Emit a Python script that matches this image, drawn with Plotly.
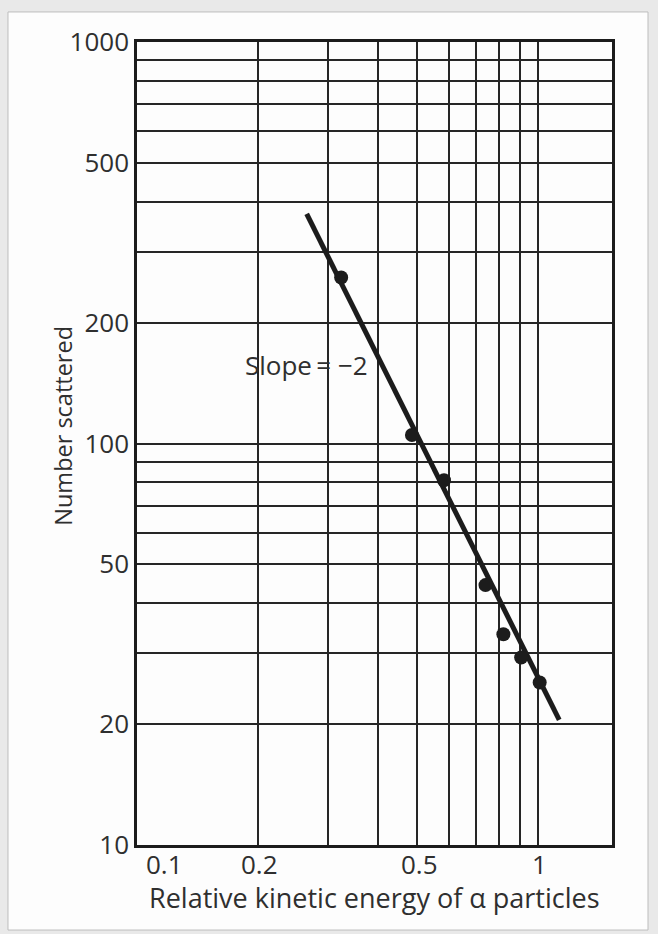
import math
import plotly.graph_objects as go

# Measured scattering counts versus relative alpha-particle kinetic energy
energy = [0.323, 0.485, 0.583, 0.740, 0.820, 0.908, 1.01]
counts = [259, 105, 81, 44.4, 33.5, 29.3, 25.4]

# Straight line of slope -2 on log-log axes (N proportional to E^-2)
fit_energy = [0.265, 1.13]
fit_counts = [373, 20.5]

# Grid positions and labels
x_grid = [0.1, 0.2, 0.3, 0.4, 0.5, 0.6, 0.7, 0.8, 0.9, 1.0]
x_labels = {0.1: "0.1", 0.2: "0.2", 0.5: "0.5", 1.0: "1"}
y_grid = [10, 20, 30, 40, 50, 60, 70, 80, 90, 100,
          200, 300, 400, 500, 600, 700, 800, 900, 1000]
y_labels = {10: "10", 20: "20", 50: "50", 100: "100",
            200: "200", 500: "500", 1000: "1000"}

ink = "#1c1c1c"
text_color = "#2f2f2f"
font_family = "Open Sans, Liberation Sans, Arial, sans-serif"

fig = go.Figure()

fig.add_trace(go.Scatter(
    x=fit_energy, y=fit_counts, mode="lines",
    line=dict(color=ink, width=5), showlegend=False, hoverinfo="skip",
))
fig.add_trace(go.Scatter(
    x=energy, y=counts, mode="markers",
    marker=dict(color=ink, size=14), showlegend=False,
))

axis_common = dict(
    type="log",
    showgrid=True, gridcolor="#262626", gridwidth=2,
    showline=True, linecolor=ink, linewidth=2.5, mirror=True,
    ticks="", zeroline=False,
    tickfont=dict(family=font_family, size=26, color=text_color),
    tickmode="array",
)

fig.update_xaxes(
    **axis_common,
    range=[-1, math.log10(1.53)],
    tickvals=x_grid,
    showticklabels=False,
)
fig.update_yaxes(
    **axis_common,
    range=[1, 3],
    tickvals=y_grid,
    ticktext=[y_labels.get(v, "") for v in y_grid],
)

# Energy tick labels, the first nudged clear of the corner
for v, label in x_labels.items():
    first = v == x_grid[0]
    fig.add_annotation(
        x=math.log10(v), y=0, xref="x", yref="paper",
        text=label, showarrow=False,
        font=dict(family=font_family, size=26, color=text_color),
        xanchor="left" if first else "center", yanchor="top",
        xshift=7 if first else 2, yshift=1,
    )

fig.add_annotation(
    x=math.log10(0.265), y=math.log10(157), xref="x", yref="y",
    text="Slope\u2009= \u22122", showarrow=False,
    font=dict(family=font_family, size=26, color=text_color),
    xanchor="center", yanchor="middle",
)
fig.add_annotation(
    x=-0.156, y=0.522, xref="paper", yref="paper",
    text="Number scattered", textangle=-90, showarrow=False,
    font=dict(family=font_family, size=23.5, color=text_color),
    xanchor="center", yanchor="middle",
)
fig.add_annotation(
    x=0.501, y=-0.065, xref="paper", yref="paper",
    text="Relative kinetic energy of \u03b1 particles", showarrow=False,
    font=dict(family=font_family, size=27, color=text_color),
    xanchor="center", yanchor="middle",
)

# White page sheet on a light grey surround
fig.add_shape(
    type="rect", xref="paper", yref="paper",
    x0=-0.2716, x1=1.0758, y0=-0.1059, y1=1.0374,
    fillcolor="#fdfdfd", line=dict(color="#bdbdbd", width=1), layer="below",
)

fig.update_layout(
    width=658, height=934, autosize=False,
    margin=dict(l=137, r=46, t=42, b=89),
    paper_bgcolor="#e9e9e9", plot_bgcolor="#fdfdfd",
    showlegend=False,
)

fig.write_html("out.html")
